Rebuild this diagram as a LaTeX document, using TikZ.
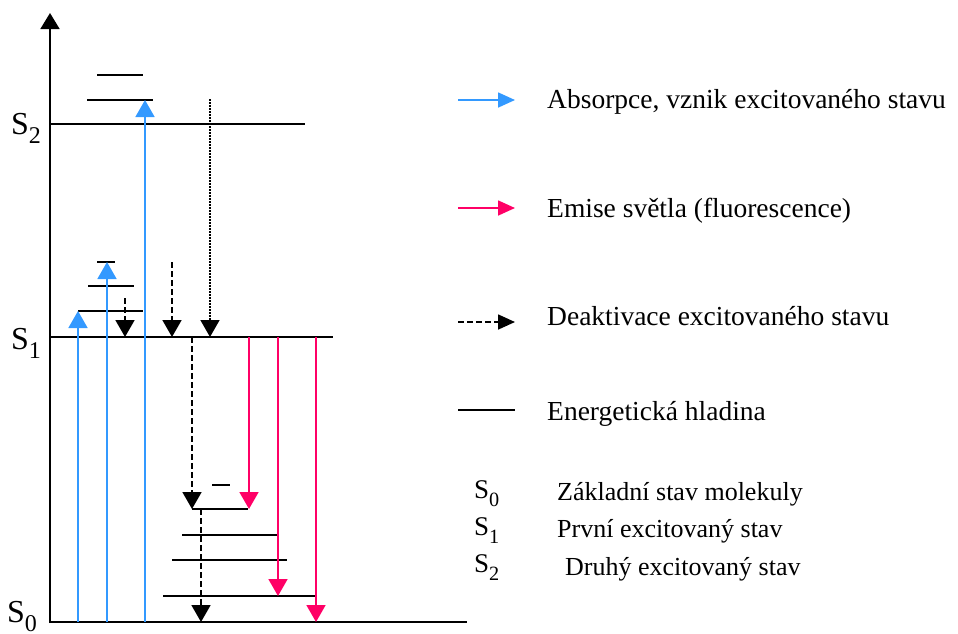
\documentclass[tikz,border=0pt]{standalone}
\usepackage{fontspec}
\usepackage{graphicx}
\setmainfont{Liberation Serif}
\usetikzlibrary{arrows.meta}

\definecolor{absblue}{RGB}{51,153,255}
\definecolor{emred}{RGB}{255,0,102}

\newcommand{\stav}[1]{S\raisebox{-0.3em}{\scalebox{0.75}{#1}}}

\begin{document}
\begin{tikzpicture}[x=1pt,y=-1pt,
    level/.style={line width=1.7pt},
    tip/.style={-{Triangle[width=19pt,length=17pt]}},
    absorb/.style={absblue,line width=1.7pt,tip},
    emit/.style={emred,line width=1.7pt,tip},
    deact/.style={line width=1.7pt,dash pattern=on 6pt off 3pt,tip},
    relax/.style={line width=1.4pt,dash pattern=on 1.5pt off 1.5pt,tip},
    leg/.style={-{Triangle[width=15pt,length=17pt]}},
    axislbl/.style={anchor=base west,inner sep=0pt,font=\fontsize{32}{32}\selectfont},
    legtext/.style={anchor=base west,inner sep=0pt,font=\fontsize{27.5}{30}\selectfont},
    legsm/.style={anchor=base west,inner sep=0pt,font=\fontsize{26}{28}\selectfont},
    leglbl/.style={anchor=base west,inner sep=0pt,font=\fontsize{27}{28}\selectfont}
    ]

    \useasboundingbox (0,0) rectangle (958,633);

    % energy axis
    \coordinate (origin) at (50,623);
    \coordinate (top) at (50,13);
    \draw[line width=1.7pt,-{Triangle[width=19pt,length=16pt]}] (origin) -- (top);

    % energy levels
    \foreach \n/\y/\a/\b in {s0/622/50/467, s1/337/50/333, s2/124/50/305,
        v21/100/87/153, v22/75/97/143,
        v11/311/78/143, v12/286/88/134, v13/262/97/115,
        g1/509/192/248, g2/535/182/278, g3/560/172/287, g4/596/163/316,
        g0/485/212/230} {
      \coordinate (\n-w) at (\a,\y);
      \coordinate (\n-e) at (\b,\y);
      \draw[level] (\n-w) -- (\n-e);
    }

    \node(l2) [axislbl] at (11,134) {\stav{2}};
    \node(l1) [axislbl] at (11,349) {\stav{1}};
    \node(l0) [axislbl] at (7,622) {\stav{0}};

    % absorption
    \foreach \x/\lo/\hi in {78/s0/v11, 107/s0/v13, 145/s0/v21} {
      \coordinate (p) at (\x,0);
      \draw[absorb] (p |- \lo-w) -- (p |- \hi-w);
    }

    % emission
    \foreach \x/\lo in {249/g1, 278/g4, 316/s0} {
      \coordinate (p) at (\x,0);
      \draw[emit] (p |- s1-w) -- (p |- \lo-w);
    }

    % deactivation
    \coordinate (d1) at (125,298);
    \coordinate (d2) at (172,262);
    \coordinate (d3) at (210,99);
    \draw[deact] (d1) -- (d1 |- s1-w);
    \draw[deact] (d2) -- (d2 |- s1-w);
    \draw[relax] (d3) -- (d3 |- s1-w);
    \draw[deact] (g1-w |- s1-w) -- (g1-w);
    \coordinate (d4) at (201,509);
    \draw[deact] (d4) -- (d4 |- s0-w);

    % legend
    \foreach \n/\y/\st in {abs/100/absorb, emi/208/emit, dea/322/deact} {
      \coordinate (\n-l) at (458,\y);
      \coordinate (\n-r) at (515,\y);
      \draw[\st,leg] (\n-l) -- (\n-r);
    }
    \coordinate (hla-l) at (458,410);
    \coordinate (hla-r) at (515,410);
    \draw[level] (hla-l) -- (hla-r);

    \node(t-abs) [legtext] at (547,108) {Absorpce, vznik excitovaného stavu};
    \node(t-emi) [legtext] at (547,217) {Emise světla (fluorescence)};
    \node(t-dea) [legtext] at (547,325) {Deaktivace excitovaného stavu};
    \node(t-hla) [legtext] at (547,420) {Energetická hladina};

    \node(k0) [leglbl] at (474,498) {\stav{0}};
    \node(k1) [leglbl] at (474,535) {\stav{1}};
    \node(k2) [leglbl] at (474,572) {\stav{2}};
    \node(k0t) [legsm] at (557,500) {Základní stav molekuly};
    \node(k1t) [legsm] at (557,537) {První excitovaný stav};
    \node(k2t) [legsm] at (565,575) {Druhý excitovaný stav};

\end{tikzpicture}
\end{document}
